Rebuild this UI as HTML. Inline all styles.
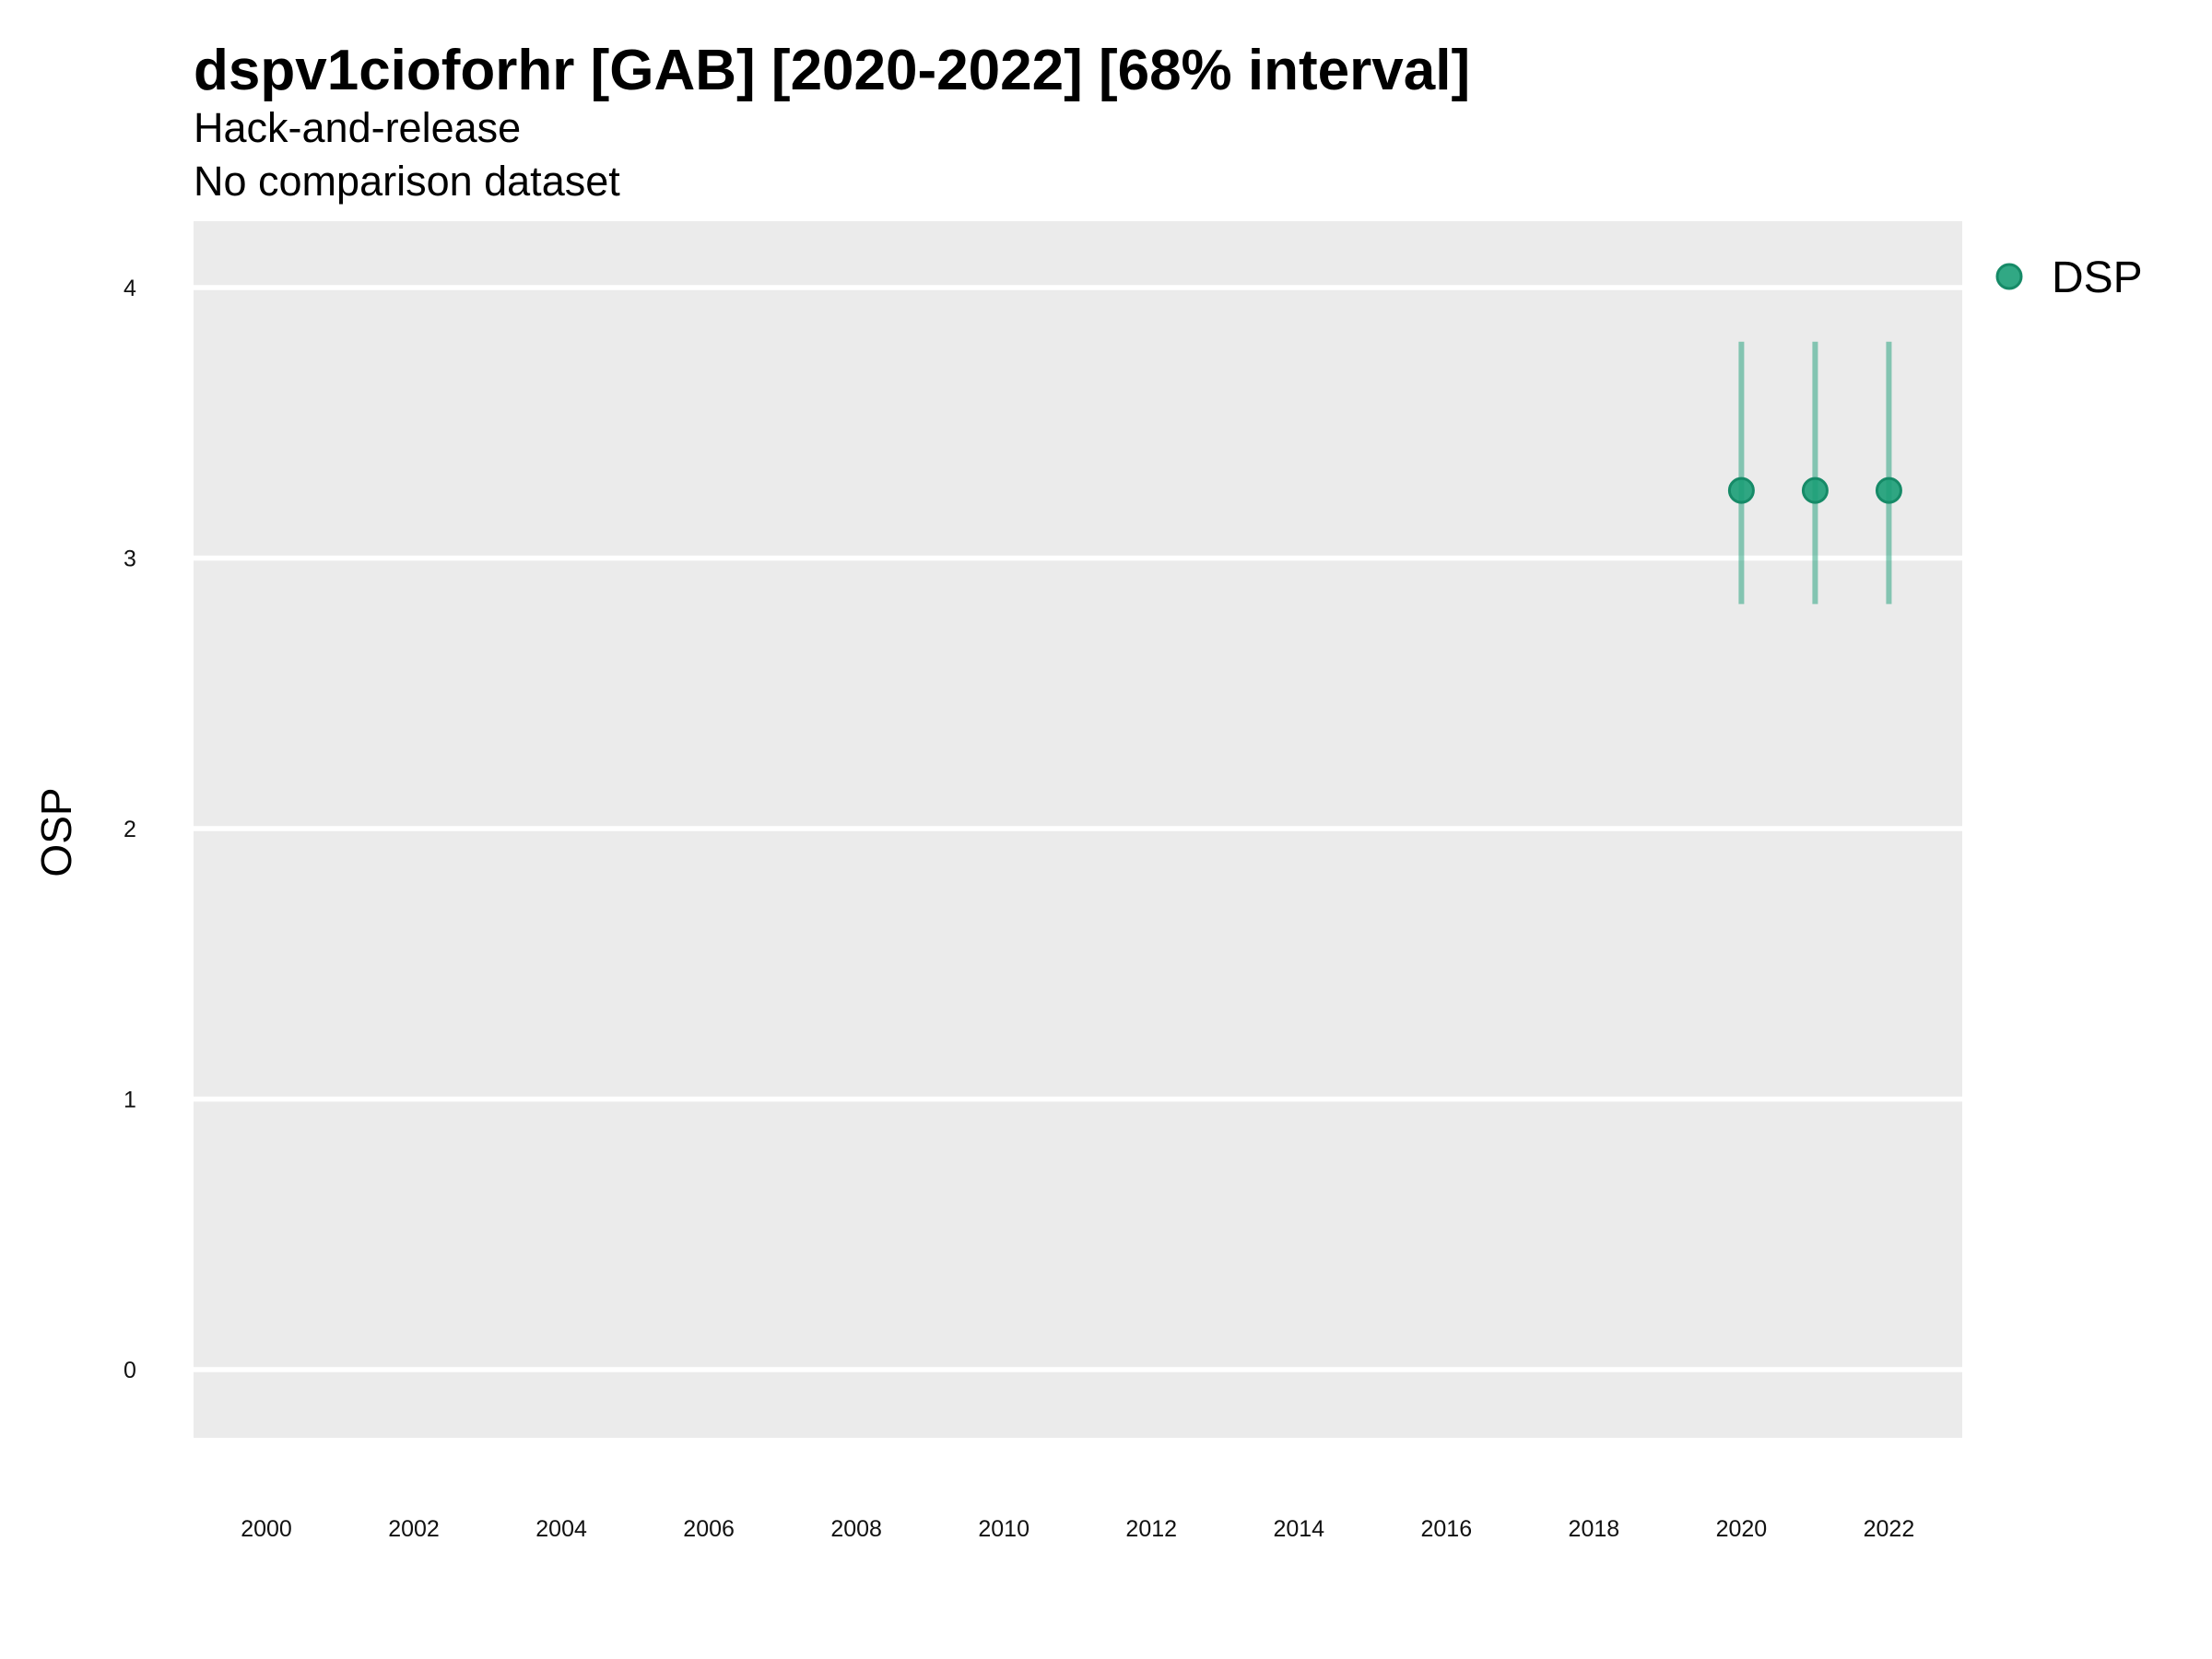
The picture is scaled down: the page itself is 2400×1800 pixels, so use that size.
<!DOCTYPE html>
<html><head><meta charset="utf-8"><style>
html,body{margin:0;padding:0;background:#fff;}
svg{display:block;font-family:"Liberation Sans",Arial,sans-serif;}
</style></head><body>
<svg id="chart" width="2400" height="1800" viewBox="0 0 2400 1800" xmlns="http://www.w3.org/2000/svg">
<text x="210" y="97" font-size="62" font-weight="bold" fill="#000">dspv1cioforhr [GAB] [2020-2022] [68% interval]</text>
<text x="210" y="154" font-size="45" fill="#000">Hack-and-release</text>
<text x="210" y="212" font-size="45" fill="#000">No comparison dataset</text>
<rect x="210" y="240" width="1919" height="1320" fill="#ebebeb"/>
<g id="grid"></g>
<g id="yticks"></g>
<g id="xticks"></g>
<g id="marks"></g>
<text transform="translate(77,903) rotate(-90)" text-anchor="middle" font-size="46" fill="#000">OSP</text>
<circle cx="2180" cy="300" r="13" fill="#1b9e77" fill-opacity="0.9" stroke="#168a67" stroke-width="3"/>
<text x="2226" y="317" font-size="48" fill="#000">DSP</text>
</svg>
<script>
const years = [2020, 2021, 2022];
const estimates = [3.25, 3.25, 3.25];
const lowers = [2.83, 2.83, 2.83];
const uppers = [3.80, 3.80, 3.80];
const yTicks = [0, 1, 2, 3, 4];
const xTicks = [2000, 2002, 2004, 2006, 2008, 2010, 2012, 2014, 2016, 2018, 2020, 2022];

const NS = "http://www.w3.org/2000/svg";
function xs(v){ return 289 + (v - 2000) * 80.02; }
function ys(v){ return 1486 - v * 293.5; }
function mk(tag, attrs, parent){
  const e = document.createElementNS(NS, tag);
  for (const k in attrs) e.setAttribute(k, attrs[k]);
  parent.appendChild(e);
  return e;
}
const grid = document.getElementById("grid");
const yt = document.getElementById("yticks");
const xt = document.getElementById("xticks");
const marks = document.getElementById("marks");

yTicks.forEach(v => {
  const l = mk("line", {x1:210, x2:2129, y1:ys(v), y2:ys(v), stroke:"#fff", "stroke-width":5.5}, grid);
  
  
  const t = mk("text", {x:141, y:ys(v)+9, "text-anchor":"middle", "font-size":25, fill:"#111"}, yt);
  t.textContent = v;
  
  
});
xTicks.forEach(v => {
  const t = mk("text", {x:xs(v), y:1667, "text-anchor":"middle", "font-size":25, fill:"#111"}, xt);
  t.textContent = v;
  
  
});
years.forEach((yr, i) => {
  const b = mk("line", {x1:xs(yr), x2:xs(yr), y1:ys(uppers[i]), y2:ys(lowers[i]), stroke:"#1b9e77", "stroke-opacity":0.5, "stroke-width":6}, marks);
  
  
  const c = mk("circle", {cx:xs(yr), cy:ys(estimates[i]), r:13, fill:"#1b9e77", "fill-opacity":0.9, stroke:"#168a67", "stroke-width":3}, marks);
  
  
});
</script>
</body></html>
